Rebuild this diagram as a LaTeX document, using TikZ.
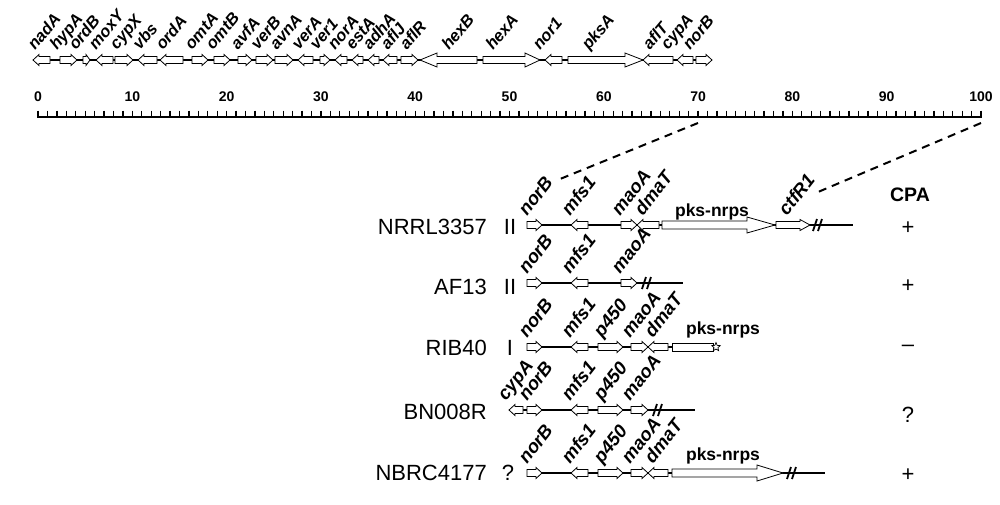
\documentclass[tikz,border=0pt]{standalone}
\usepackage{fontspec}
\setmainfont{Liberation Sans}
\usetikzlibrary{shapes.geometric}
\newcommand{\geneR}[6]{\draw[gene] (#1,#3-#6) -- ({#2-#4},#3-#6) -- ({#2-#4},#3-#5) -- (#2,#3) -- ({#2-#4},#3+#5) -- ({#2-#4},#3+#6) -- (#1,#3+#6) -- cycle;}
\newcommand{\geneL}[6]{\draw[gene] (#2,#3-#6) -- ({#1+#4},#3-#6) -- ({#1+#4},#3-#5) -- (#1,#3) -- ({#1+#4},#3+#5) -- ({#1+#4},#3+#6) -- (#2,#3+#6) -- cycle;}
\newcommand{\sR}[3]{\geneR{#1}{#2}{#3}{6}{5.5}{3.5}}
\newcommand{\sL}[3]{\geneL{#1}{#2}{#3}{6}{5.5}{3.5}}
\newcommand{\brk}[2]{\draw[brkst] ({#1-1},#2+6) -- ({#1+3},#2-6); \draw[brkst] ({#1+4},#2+6) -- ({#1+8},#2-6);}
\begin{document}
\begin{tikzpicture}[x=1pt,y=-1pt,
  gene/.style={draw=black, fill=white, line width=0.8pt, line join=miter},
  bb/.style={line width=2.6pt},
  tbb/.style={line width=2pt},
  brkst/.style={line width=1.8pt},
  glab/.style={font=\fontsize{16.5}{16.5}\selectfont\bfseries\itshape, inner sep=0pt, anchor=base west, rotate=50},
  blab/.style={font=\fontsize{18.5}{18.5}\selectfont\bfseries\itshape, inner sep=0pt, anchor=base west, rotate=52},
  pklab/.style={font=\fontsize{17.5}{17.5}\selectfont\bfseries, inner sep=0pt},
  strain/.style={font=\fontsize{22}{22}\selectfont, inner sep=0pt, anchor=east},
  cls/.style={font=\fontsize{22}{22}\selectfont, inner sep=0pt},
  num/.style={font=\fontsize{14}{14}\selectfont\bfseries, inner sep=0pt},
  dsh/.style={line width=2pt, dash pattern=on 8pt off 6pt}]
\useasboundingbox (0,0) rectangle (1000,504);
% ---------- top cluster ----------
\draw[tbb] (33,60) -- (712,60);
\sL{33}{50}{60} \sR{60}{77}{60} \geneR{83}{90}{60}{4}{5.5}{3.5}
\sL{96}{113}{60} \sR{115}{133}{60} \sL{138}{157}{60} \sL{160}{183}{60}
\sR{192}{208}{60} \sR{214}{230}{60} \sR{238}{252}{60} \sR{256}{273}{60}
\sR{275}{293}{60} \sL{298}{313}{60} \sR{320}{330}{60} \sL{335}{347}{60}
\sL{352}{363}{60} \sL{368}{379}{60} \sL{383}{397}{60} \sR{401}{418}{60}
\geneL{420}{477}{60}{17}{7}{3.5}
\geneR{483}{540}{60}{15}{7}{3.5}
\sL{545}{562}{60}
\geneR{568}{643}{60}{18}{7}{3.5}
\sL{643}{673}{60} \sL{677}{693}{60} \sR{696}{712}{60}
\node[glab] (t1) at (35,51) {nadA};
\node[glab] (t2) at (57,51) {hypA};
\node[glab] (t3) at (76,51) {ordB};
\node[glab] (t4) at (96,51) {moxY};
\node[glab] (t5) at (117,51) {cypX};
\node[glab] (t6) at (140,51) {vbs};
\node[glab] (t7) at (163,51) {ordA};
\node[glab] (t8) at (192,51) {omtA};
\node[glab] (t9) at (213,51) {omtB};
\node[glab] (t10) at (238,51) {avfA};
\node[glab] (t11) at (258,51) {verB};
\node[glab] (t12) at (277,51) {avnA};
\node[glab] (t13) at (299,51) {verA};
\node[glab] (t14) at (317,51) {ver1};
\node[glab] (t15) at (335,51) {norA};
\node[glab] (t16) at (353,51) {estA};
\node[glab] (t17) at (370,51) {adhA};
\node[glab] (t18) at (388,51) {aflJ};
\node[glab] (t19) at (407,51) {aflR};
\node[glab] (t20) at (449,51) {hexB};
\node[glab] (t21) at (493,51) {hexA};
\node[glab] (t22) at (540,51) {nor1};
\node[glab] (t23) at (589,51) {pksA};
\node[glab] (t24) at (650,51) {aflT};
\node[glab] (t25) at (668,51) {cypA};
\node[glab] (t26) at (690,51) {norB};
% ---------- ruler ----------
\draw[line width=2pt] (37,117) -- (982,117);
\foreach \i in {0,...,100} \draw[line width=1.3pt] ({38+9.43*\i},110.5) -- ({38+9.43*\i},117);
\foreach \i in {0,10,...,100} \node[num] (n\i) at ({38+9.43*\i},97) {\i};
\coordinate (r70) at (698,123);
\coordinate (r100) at (981,123);
\coordinate (e1) at (560,179);
\coordinate (e2) at (818,192);
\draw[dsh] (r70) -- (e1);
\draw[dsh] (r100) -- (e2);
% ---------- row 1 NRRL3357 ----------
\draw[bb] (527,225) -- (853,225);
\sR{527}{542}{225} \sL{571}{588}{225} \sR{621}{637}{225} \sL{637}{659}{225}
\geneR{662}{775}{225}{28}{8}{4}
\geneR{776}{810}{225}{10}{5.5}{3.5}
\brk{814}{225}
\node[blab] (a1) at (527,217) {norB};
\node[blab] (a2) at (570,217) {mfs1};
\node[blab] (a3) at (620,217) {maoA};
\node[blab] (a4) at (643,217) {dmaT};
\node[blab] (a5) at (787,217) {ctfR1};
\node[pklab] (a6) at (712,212) {pks-nrps};
% ---------- row 2 AF13 ----------
\draw[bb] (527,283) -- (683,283);
\sR{527}{542}{283} \sL{571}{588}{283} \sR{621}{637}{283}
\brk{643}{283}
\node[blab] (b1) at (527,275) {norB};
\node[blab] (b2) at (570,275) {mfs1};
\node[blab] (b3) at (620,275) {maoA};
% ---------- row 3 RIB40 ----------
\draw[bb] (527,347) -- (672,347);
\sR{527}{542}{347} \sL{571}{588}{347} \sR{598}{623}{347} \sR{631}{648}{347} \sL{648}{668}{347}
\draw[gene] (672,343) rectangle (713,351);
\node[star, star points=5, star point ratio=2.2, draw, fill=white, line width=0.7pt, minimum size=9pt, inner sep=0pt] (st) at (716,347) {};
\node[blab] (c1) at (527,339) {norB};
\node[blab] (c2) at (570,339) {mfs1};
\node[blab] (c3) at (602,339) {p450};
\node[blab] (c4) at (630,339) {maoA};
\node[blab] (c5) at (653,339) {dmaT};
\node[pklab] (c6) at (723,330) {pks-nrps};
% ---------- row 4 BN008R ----------
\draw[bb] (509,410) -- (695,410);
\sL{509}{523}{410} \sR{527}{542}{410} \sL{571}{588}{410} \sR{598}{623}{410} \sR{631}{648}{410}
\brk{654}{410}
\node[blab] (d0) at (506,402) {cypA};
\node[blab] (d1) at (527,402) {norB};
\node[blab] (d2) at (570,402) {mfs1};
\node[blab] (d3) at (602,402) {p450};
\node[blab] (d4) at (630,402) {maoA};
% ---------- row 5 NBRC4177 ----------
\draw[bb] (527,473) -- (825,473);
\sR{527}{542}{473} \sL{571}{588}{473} \sR{598}{623}{473} \sR{631}{648}{473} \sL{648}{668}{473}
\geneR{672}{783}{473}{26}{8}{4}
\brk{788}{473}
\node[blab] (f1) at (527,465) {norB};
\node[blab] (f2) at (570,465) {mfs1};
\node[blab] (f3) at (602,465) {p450};
\node[blab] (f4) at (630,465) {maoA};
\node[blab] (f5) at (653,465) {dmaT};
\node[pklab] (f6) at (723,456) {pks-nrps};
% ---------- strain names ----------
\node[strain] (s1) at (487,227) {NRRL3357};
\node[strain] (s2) at (487,287) {AF13};
\node[strain] (s3) at (487,348) {RIB40};
\node[strain] (s4) at (487,412) {BN008R};
\node[strain] (s5) at (487,473) {NBRC4177};
\node[cls] (g1) at (510,227) {II};
\node[cls] (g2) at (510,287) {II};
\node[cls] (g3) at (510,348) {I};
\node[cls] (g5) at (508,473) {?};
% ---------- CPA ----------
\node[font=\fontsize{19.5}{19.5}\selectfont\bfseries, inner sep=0pt] (cpa) at (910,195) {CPA};
\node[cls] (p1) at (908,228) {+};
\node[cls] (p2) at (908,286) {+};
\node[cls] (p3) at (908,348) {–};
\node[cls] (p4) at (908,415) {?};
\node[cls] (p5) at (908,475) {+};
\end{tikzpicture}
\end{document}
